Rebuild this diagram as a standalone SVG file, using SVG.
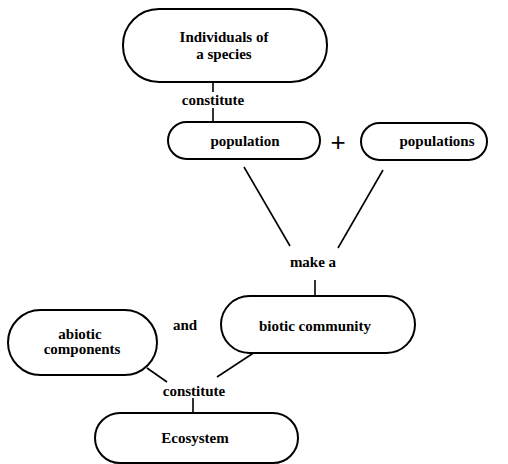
<svg xmlns="http://www.w3.org/2000/svg" width="508" height="464" viewBox="0 0 508 464">
  <style>
    .node { fill: #ffffff; stroke: #000000; stroke-width: 2; }
    .link { fill: none; stroke: #000000; stroke-width: 1.6; }
    text { font-family: "Liberation Serif", "Times New Roman", serif; font-weight: bold; font-size: 15px; fill: #000000; text-anchor: middle; }
    .plus { font-family: "Liberation Sans", Arial, sans-serif; font-size: 26px; font-weight: normal; }
  </style>
  <rect width="508" height="464" fill="#ffffff"/>

  <!-- connectors -->
  <g id="connectors">
    <line class="link" x1="213" y1="82" x2="213" y2="92"/>
    <line class="link" x1="213" y1="108" x2="213" y2="122"/>
    <line class="link" x1="244" y1="167" x2="290" y2="246"/>
    <line class="link" x1="383" y1="170" x2="338" y2="248"/>
    <line class="link" x1="315" y1="280" x2="315" y2="297"/>
    <line class="link" x1="255" y1="352" x2="217" y2="377"/>
    <line class="link" x1="147" y1="368" x2="167" y2="382"/>
    <line class="link" x1="193" y1="398" x2="193" y2="413"/>
  </g>

  <!-- link labels -->
  <g id="labels">
    <text x="213" y="105">constitute</text>
    <text x="313" y="267">make a</text>
    <text x="185" y="330">and</text>
    <text x="194" y="396">constitute</text>
    <text class="plus" x="338" y="151">+</text>
  </g>

  <g id="individuals">
    <rect class="node" x="123" y="9" width="204" height="73" rx="36" ry="36"/>
    <text x="224" y="42">Individuals of</text>
    <text x="224" y="59">a species</text>
  </g>

  <g id="population">
    <rect class="node" x="168" y="122" width="152" height="37" rx="18.5" ry="18.5"/>
    <text x="245" y="146">population</text>
  </g>

  <g id="populations">
    <rect class="node" x="361" y="123" width="126" height="37" rx="18.5" ry="18.5"/>
    <text x="437" y="146">populations</text>
  </g>

  <g id="biotic">
    <rect class="node" x="221" y="296" width="194" height="57" rx="28.5" ry="28.5"/>
    <text x="315" y="331">biotic community</text>
  </g>

  <g id="abiotic">
    <rect class="node" x="8" y="310" width="149" height="65" rx="32.5" ry="32.5"/>
    <text x="80" y="339">abiotic</text>
    <text x="82" y="354">components</text>
  </g>

  <g id="ecosystem">
    <rect class="node" x="95" y="413" width="203" height="50" rx="25" ry="25"/>
    <text x="195" y="443">Ecosystem</text>
  </g>
</svg>
